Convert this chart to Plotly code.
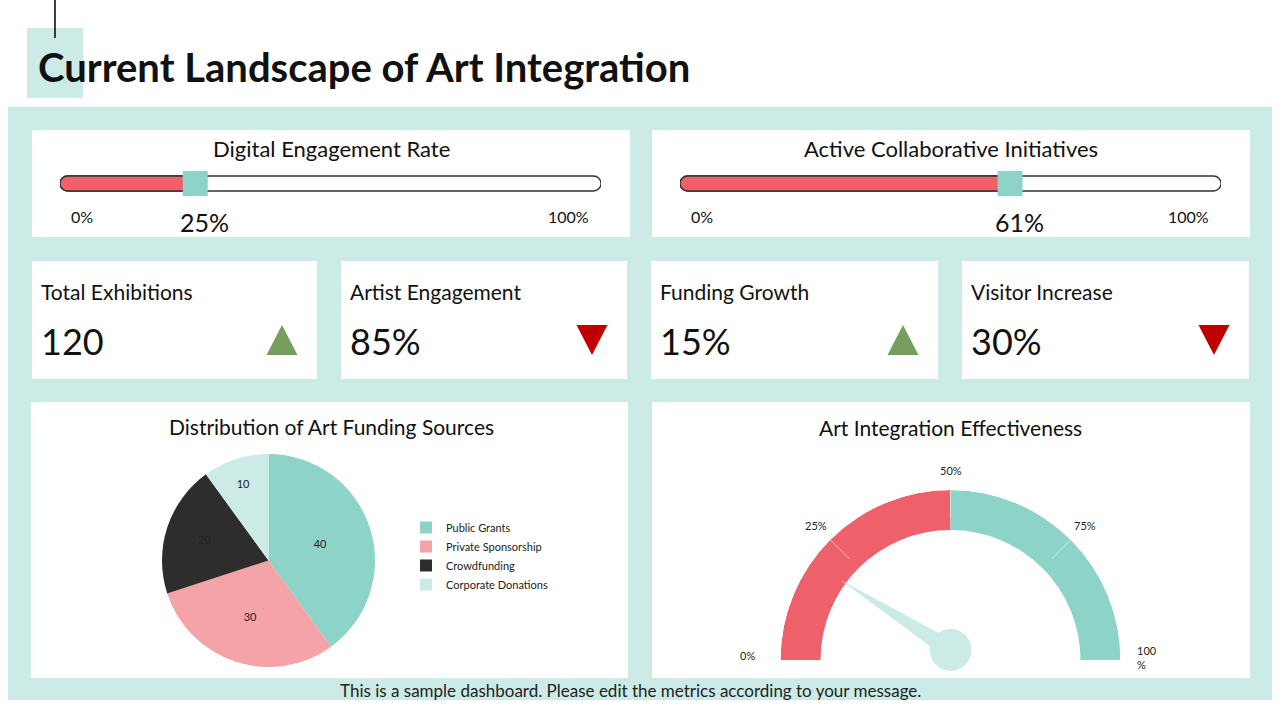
import numpy as np
import plotly.graph_objects as go

W, H = 1280, 720
def px(x): return x / W
def py(y): return 1 - y / H

# ---------------- data ----------------
title_text = "Current Landscape of Art Integration"
footer_text = "This is a sample dashboard. Please edit the metrics according to your message."
slider_titles = ["Digital Engagement Rate", "Active Collaborative Initiatives"]
slider_values = [25, 61]
slider_min_label = "0%"
slider_max_label = "100%"
kpi_labels = ["Total Exhibitions", "Artist Engagement", "Funding Growth", "Visitor Increase"]
kpi_values = ["120", "85%", "15%", "30%"]
kpi_trends = ["up", "down", "up", "down"]
pie_title = "Distribution of Art Funding Sources"
pie_labels = ["Public Grants", "Private Sponsorship", "Crowdfunding", "Corporate Donations"]
pie_values = [40, 30, 20, 10]
gauge_title = "Art Integration Effectiveness"
gauge_band_edges = [0, 50, 100]
gauge_ticks = [0, 25, 50, 75, 100]
gauge_tick_text = ["0%", "25%", "50%", "75%", "100<br>%"]
gauge_value = 20

# ---------------- style ----------------
FONT = "Lato"
TXT = "#111111"
RED = "#EE616B"
TEAL = "#8DD3C7"
LIGHT = "#CDEBE6"
DARK = "#2F2C2D"
PINK = "#F4A4A9"
GREEN = "#779E5D"
DRED = "#C00000"
pie_colors = [TEAL, PINK, DARK, LIGHT]
band_colors = [RED, TEAL]

fig = go.Figure()
shapes = []
ann = []

def rect(x0, y0, x1, y1, color):
    shapes.append(dict(type="rect", xref="paper", yref="paper", layer="below",
                       x0=px(x0), x1=px(x1), y0=py(y1), y1=py(y0),
                       fillcolor=color, line=dict(width=0)))

def text(x, y, s, size, xanchor="center", color=TXT, bold=False, align="center"):
    ann.append(dict(x=px(x), y=py(y), xref="paper", yref="paper", text=("<b>%s</b>" % s) if bold else s,
                    showarrow=False, xanchor=xanchor, yanchor="middle", align=align,
                    font=dict(family=FONT, size=size, color=color)))

# background panel, title decoration
rect(8, 107, 1272, 700, LIGHT)
rect(27, 28, 83, 98, LIGHT)
shapes.append(dict(type="line", xref="paper", yref="paper", x0=px(55), x1=px(55), y0=py(0), y1=py(38),
                   line=dict(color="black", width=1.5)))
text(36, 67, title_text, 40, xanchor="left", bold=True)

# cards
top_cards = [(32, 130, 630, 237), (652, 130, 1250, 237)]
kpi_cards = [(32, 261, 317, 379), (341, 261, 627, 379), (651, 261, 938, 379), (962, 261, 1249, 379)]
bottom_cards = [(31, 402, 628, 678), (652, 402, 1250, 678)]
for c in top_cards + kpi_cards + bottom_cards:
    rect(*c, "white")

# ---------------- overlay axis (pixel space) for KPI triangles ----------------
fig.update_layout(xaxis=dict(domain=[0, 1], range=[0, W], visible=False, fixedrange=True),
                  yaxis=dict(domain=[0, 1], range=[H, 0], visible=False, fixedrange=True))
for (x0, y0, x1, y1), lab, val, tr in zip(kpi_cards, kpi_labels, kpi_values, kpi_trends):
    text(x0 + 7, 291, lab, 21, xanchor="left")
    text(x0 + 7, 341, val, 36, xanchor="left")
    cx, cy, hw, hh = x1 - 35, 340, 15.5, 15
    if tr == "up":
        tx, ty, col = [cx - hw, cx + hw, cx, cx - hw], [cy + hh, cy + hh, cy - hh, cy + hh], GREEN
    else:
        tx, ty, col = [cx - hw, cx + hw, cx, cx - hw], [cy - hh, cy - hh, cy + hh, cy - hh], DRED
    fig.add_trace(go.Scatter(x=tx, y=ty, fill="toself", mode="lines", fillcolor=col,
                             line=dict(width=0, color=col), showlegend=False, hoverinfo="skip",
                             xaxis="x", yaxis="y"))

# ---------------- sliders ----------------
for i, ((x0, y0, x1, y1), ttl, v) in enumerate(zip(top_cards, slider_titles, slider_values)):
    n = i + 2
    xa, ya = "x%d" % n, "y%d" % n
    tx0, tx1 = x0 + 28, x1 - 29
    fig.update_layout(**{
        "xaxis%d" % n: dict(domain=[px(tx0), px(tx1)], range=[0, 100], visible=False, fixedrange=True),
        "yaxis%d" % n: dict(domain=[py(196), py(171)], range=[-0.5, 0.5], visible=False, fixedrange=True),
    })
    fig.add_trace(go.Bar(x=[100], y=[0], base=0, orientation="h", width=0.6, xaxis=xa, yaxis=ya,
                         marker=dict(color="white", line=dict(color="#333333", width=1.3), cornerradius="50%"),
                         showlegend=False, hoverinfo="skip"))
    fig.add_trace(go.Bar(x=[v], y=[0], base=0, orientation="h", width=0.6, xaxis=xa, yaxis=ya,
                         marker=dict(color=RED, line=dict(color="#333333", width=1.3), cornerradius="50%"),
                         showlegend=False, hoverinfo="skip"))
    fig.add_trace(go.Scatter(x=[v], y=[0], mode="markers", xaxis=xa, yaxis=ya, cliponaxis=False,
                             marker=dict(symbol="square", size=25, color=TEAL, line=dict(width=0)),
                             showlegend=False, hoverinfo="skip"))
    text((x0 + x1) / 2, 149, ttl, 22)
    text(x0 + 50, 216, slider_min_label, 16)
    text(x1 - 62, 216, slider_max_label, 16)
    ann.append(dict(x=v, y=py(222), xref=xa, yref="paper", yanchor="middle", showarrow=False,
                    text="%d%%" % v, xshift=9, font=dict(family=FONT, size=25, color=TXT)))

# ---------------- pie ----------------
text(331, 426, pie_title, 21)
fig.add_trace(go.Pie(labels=pie_labels, values=pie_values, sort=False, direction="clockwise", rotation=0,
                     marker=dict(colors=pie_colors, line=dict(width=0)),
                     textinfo="value", textposition="inside", insidetextorientation="horizontal",
                     textfont=dict(family=FONT, size=11, color="#222222"),
                     domain=dict(x=[px(162), px(375)], y=[py(667), py(454)]),
                     hoverinfo="skip"))

# ---------------- gauge ----------------
text(950, 427, gauge_title, 21)
GCX, GCY, GR = 950.5, 660, 170
to_deg = lambda p: np.asarray(p, dtype=float) * 180.0 / 100.0
edges = to_deg(gauge_band_edges)
hole = 130 / GR
fig.add_trace(go.Barpolar(theta=(edges[:-1] + edges[1:]) / 2, width=np.diff(edges),
                          r=[1 - hole] * (len(edges) - 1), base=[hole] * (len(edges) - 1),
                          marker=dict(color=band_colors, line=dict(width=0)),
                          showlegend=False, hoverinfo="skip", subplot="polar"))
for t in to_deg(gauge_ticks[1:-1]):
    fig.add_trace(go.Scatterpolar(r=[0.84, 1.0], theta=[t, t], mode="lines",
                                  line=dict(color="rgba(255,255,255,0.6)", width=1),
                                  showlegend=False, hoverinfo="skip", subplot="polar"))
# needle
hub = np.array([0.0, 0.06])
nd = float(to_deg(gauge_value))
phi = np.radians(180 - nd)
tip = 0.8 * np.array([np.cos(phi), np.sin(phi)])
d = (tip - hub) / np.linalg.norm(tip - hub)
nrm = np.array([-d[1], d[0]])
pts = [hub + 0.055 * nrm, tip, hub - 0.055 * nrm, hub + 0.055 * nrm]
nr = [float(np.hypot(*p)) for p in pts]
nt = [float(180 - np.degrees(np.arctan2(p[1], p[0]))) for p in pts]
fig.add_trace(go.Scatterpolar(r=nr, theta=nt, mode="lines", fill="toself", fillcolor=LIGHT,
                              line=dict(width=0, color=LIGHT), showlegend=False, hoverinfo="skip",
                              subplot="polar", cliponaxis=False))
fig.add_trace(go.Scatterpolar(r=[float(np.hypot(*hub))], theta=[90], mode="markers",
                              marker=dict(size=42, color=LIGHT), showlegend=False, hoverinfo="skip",
                              subplot="polar", cliponaxis=False))

fig.update_layout(polar=dict(
    domain=dict(x=[px(GCX - GR), px(GCX + GR)], y=[py(GCY), py(GCY - GR)]),
    sector=[0, 180], hole=0, bgcolor="rgba(0,0,0,0)", bargap=0,
    radialaxis=dict(range=[0, 1], visible=False),
    angularaxis=dict(direction="clockwise", rotation=180, visible=False),
))
# gauge tick labels
for t, lab in zip(gauge_ticks, gauge_tick_text):
    a = np.radians(180 - float(to_deg(t)))
    end = t in (gauge_ticks[0], gauge_ticks[-1])
    rr = 190 + (10 if end else 0)
    lx = GCX + rr * np.cos(a)
    ly = GCY - rr * np.sin(a) - (5 if end else 0)
    if t == gauge_ticks[-1]:
        ly += 2
        text(lx - 16, ly, lab, 11, xanchor="left", color="#222222", align="left")
    else:
        text(lx - (3 if end else 0), ly, lab, 11, color="#222222")

text(630, 690, footer_text, 17, color="#222222")

fig.update_layout(
    width=W, height=H, margin=dict(l=0, r=0, t=0, b=0),
    paper_bgcolor="white", plot_bgcolor="rgba(0,0,0,0)",
    barmode="overlay", shapes=shapes, annotations=ann,
    showlegend=True,
    legend=dict(x=px(406), y=py(513), xanchor="left", yanchor="top", itemwidth=30,
                font=dict(family=FONT, size=11, color="#222222"), bgcolor="rgba(0,0,0,0)"),
    font=dict(family=FONT),
)
fig.write_html("out.html")
